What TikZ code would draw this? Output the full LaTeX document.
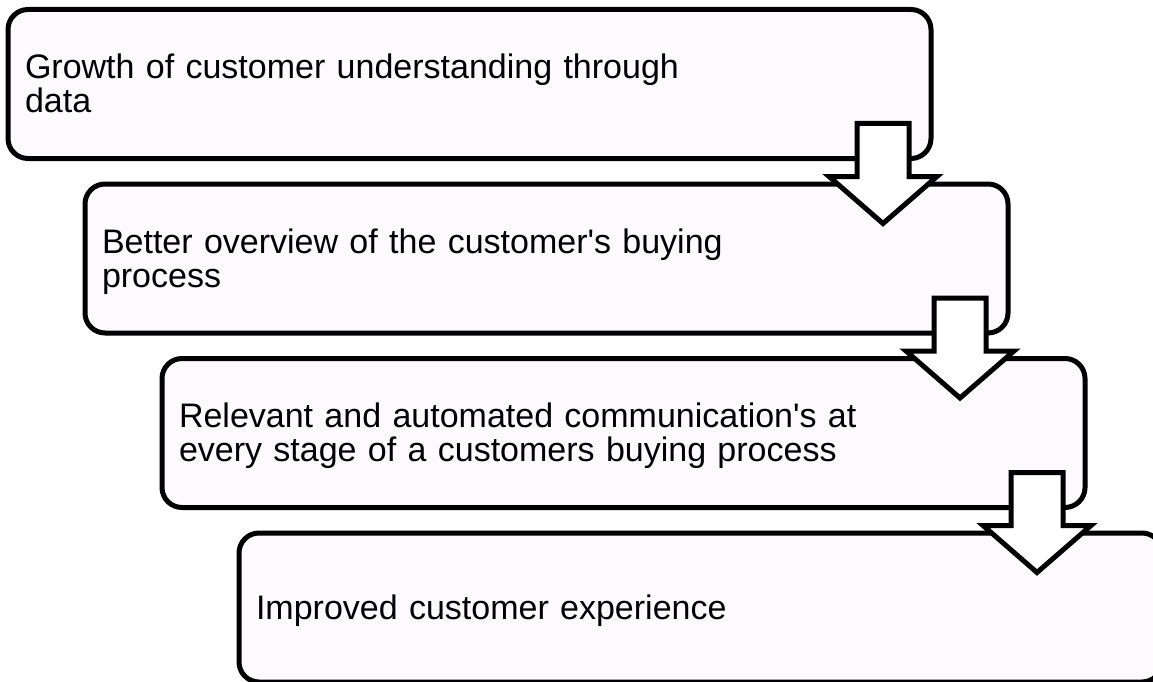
\documentclass[tikz,border=0pt]{standalone}
\usepackage{fontspec}
\setmainfont{Liberation Sans}[Ligatures=TeXOff]
\usetikzlibrary{positioning}

\definecolor{stagefill}{RGB}{253,250,253}

\begin{document}
\begin{tikzpicture}[
  x=1pt, y=-1pt,
  node distance=25.5pt,
  every node/.style={font=\fontsize{34}{34}\selectfont},
  stagebox/.style={rectangle, draw, line width=5pt, rounded corners=20pt, fill=stagefill,
    minimum width=923pt, minimum height=149pt, outer sep=0pt, inner xsep=17pt,
    text width=889pt, align=left,
    execute at begin node={\rule{0pt}{30.8pt}},
    execute at end node={\rule[-7.2pt]{0pt}{7.2pt}}},
  downarrow/.pic={
    \draw[line width=5pt, line join=miter, fill=white]
      (-74,-35) -- (-22,-35) -- (-22,18) -- (6,18) -- (-48,65)
      -- (-102,18) -- (-74,18) -- cycle;}
]
\useasboundingbox (0,0) rectangle (1153,682);
\clip (0,0) rectangle (1153,682);

% Stages
\node[stagebox] (s1) at (469.5,84) {Growth of customer understanding through\\data};
\node[stagebox, below=of s1, xshift=77pt] (s2) {Better overview of the customer's buying\\process};
\node[stagebox, below=of s2, xshift=77pt] (s3) {Relevant and automated communication's at\\every stage of a customers buying process};
\node[stagebox, below=of s3, xshift=77pt] (s4) {Improved customer experience};

% Arrows
\pic at (s1.south east) {downarrow};
\pic at (s2.south east) {downarrow};
\pic at (s3.south east) {downarrow};

\end{tikzpicture}
\end{document}
